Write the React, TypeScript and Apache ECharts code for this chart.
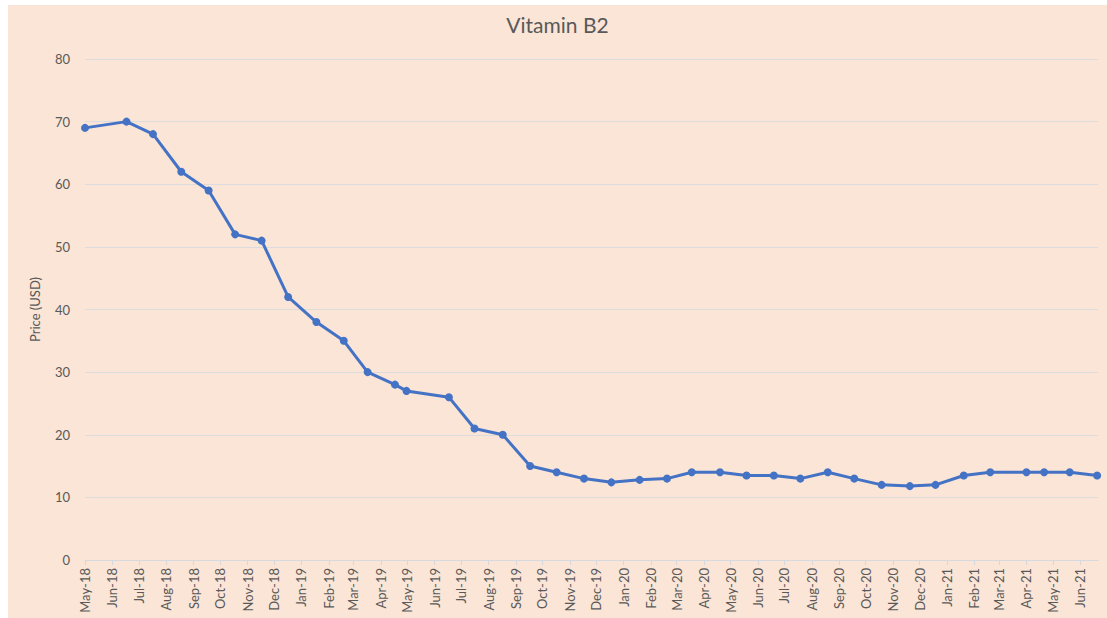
import React, { useEffect, useRef } from "react";
import * as echarts from "echarts";

const pointDates: string[] = [
  "2018-05-01", "2018-06-17", "2018-07-17", "2018-08-18", "2018-09-18", "2018-10-18",
  "2018-11-17", "2018-12-17", "2019-01-18", "2019-02-18", "2019-03-17", "2019-04-17",
  "2019-04-30", "2019-06-17", "2019-07-16", "2019-08-17", "2019-09-17", "2019-10-17",
  "2019-11-17", "2019-12-18", "2020-01-19", "2020-02-19", "2020-03-18", "2020-04-19",
  "2020-05-19", "2020-06-19", "2020-07-19", "2020-08-19", "2020-09-18", "2020-10-19",
  "2020-11-20", "2020-12-19", "2021-01-20", "2021-02-19", "2021-04-01", "2021-04-21",
  "2021-05-20", "2021-06-20",
];

const prices: number[] = [
  69, 70, 68, 62, 59, 52,
  51, 42, 38, 35, 30, 28,
  27, 26, 21, 20, 15, 14,
  13, 12.4, 12.8, 13, 14, 14,
  13.5, 13.5, 13, 14, 13, 12,
  11.8, 12, 13.5, 14, 14, 14,
  14, 13.5,
];

const tickMonths: string[] = [
  "2018-05", "2018-06", "2018-07", "2018-08", "2018-09", "2018-10", "2018-11", "2018-12",
  "2019-01", "2019-02", "2019-03", "2019-04", "2019-05", "2019-06", "2019-07", "2019-08",
  "2019-09", "2019-10", "2019-11", "2019-12", "2020-01", "2020-02", "2020-03", "2020-04",
  "2020-05", "2020-06", "2020-07", "2020-08", "2020-09", "2020-10", "2020-11", "2020-12",
  "2021-01", "2021-02", "2021-03", "2021-04", "2021-05", "2021-06",
];

const monthNames = ["Jan", "Feb", "Mar", "Apr", "May", "Jun", "Jul", "Aug", "Sep", "Oct", "Nov", "Dec"];

const toTs = (s: string): number => {
  const [y, m, d] = s.split("-").map(Number);
  return Date.UTC(y, m - 1, d || 1);
};

export default function App() {
  const ref = useRef<HTMLDivElement>(null);

  useEffect(() => {
    if (!ref.current) return;
    const chart = echarts.init(ref.current, null, { renderer: "svg" });
    const tickValues = tickMonths.map((m) => toTs(m));
    const xMin = toTs("2018-05-01");
    const xMax = toTs("2021-06-21");
    const labelColor = "#595959";
    const font = "Lato, 'Open Sans', sans-serif";

    chart.setOption({
      animation: false,
      backgroundColor: "#FAE5D7",
      textStyle: { fontFamily: font },
      title: {
        text: "Vitamin B2",
        left: "center",
        top: 4,
        textStyle: { fontSize: 21, fontWeight: "normal", color: labelColor, fontFamily: font },
      },
      grid: { left: 77, right: 9, top: 54, bottom: 58, containLabel: false },
      xAxis: {
        type: "value",
        min: xMin,
        max: xMax,
        axisLine: { show: true, lineStyle: { color: "#d5d8dc", width: 1 } },
        axisTick: {
          show: true,
          length: 5,
          customValues: tickValues,
          lineStyle: { color: "#d5d8dc" },
        },
        axisLabel: {
          customValues: tickValues,
          rotate: 90,
          color: labelColor,
          fontSize: 13,
          fontFamily: font,
          margin: 8,
          formatter: (v: number) => {
            const d = new Date(v);
            return monthNames[d.getUTCMonth()] + "-" + String(d.getUTCFullYear()).slice(2);
          },
        },
        splitLine: { show: false },
      },
      yAxis: {
        type: "value",
        min: 0,
        max: 80,
        interval: 10,
        name: "Price (USD)",
        nameLocation: "middle",
        nameGap: 44,
        nameTextStyle: { color: labelColor, fontSize: 13, fontFamily: font },
        axisLine: { show: false },
        axisTick: { show: false },
        axisLabel: { color: labelColor, fontSize: 13, fontFamily: font, margin: 15 },
        splitLine: { lineStyle: { color: "#dcdcdc", width: 1 } },
      },
      series: [
        {
          type: "line",
          data: pointDates.map((d, i) => [toTs(d), prices[i]]),
          color: "#4472C4",
          lineStyle: { width: 3, color: "#4472C4" },
          itemStyle: { color: "#4472C4" },
          symbol: "circle",
          symbolSize: 8,
          showSymbol: true,
        },
      ],
    });

    return () => chart.dispose();
  }, []);

  return (
    <div
      ref={ref}
      style={{ position: "absolute", left: 8, top: 5, width: 1099, height: 613 }}
    />
  );
}
